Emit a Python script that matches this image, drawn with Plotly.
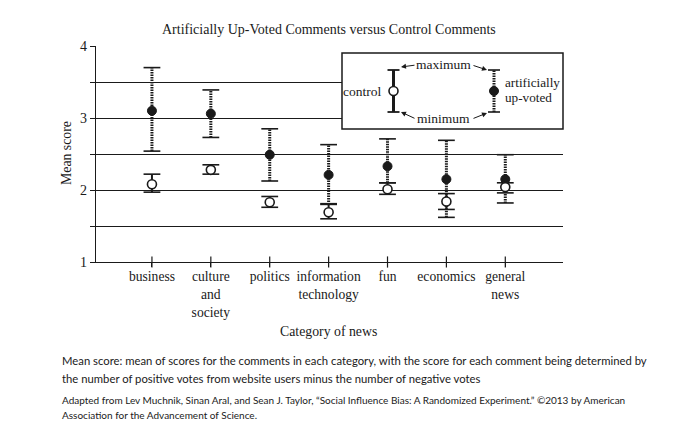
import plotly.graph_objects as go

categories = ["business", "culture and society", "politics", "information technology",
              "fun", "economics", "general news"]
tick_labels = ["business", "culture<br>and<br>society", "politics", "information<br>technology",
               "fun", "economics", "general<br>news"]
up_mean = [3.10, 3.06, 2.49, 2.21, 2.33, 2.15, 2.15]
up_max = [3.70, 3.39, 2.85, 2.63, 2.71, 2.69, 2.49]
up_min = [2.54, 2.73, 2.125, 1.80, 2.10, 1.62, 1.82]
ctrl_mean = [2.08, 2.28, 1.83, 1.69, 2.01, 1.84, 2.04]
ctrl_max = [2.22, 2.35, 1.91, 1.81, 2.10, 1.95, 2.10]
ctrl_min = [1.97, 2.22, 1.76, 1.60, 1.94, 1.73, 1.96]
y_ticks = [1, 1.5, 2, 2.5, 3, 3.5, 4]
y_tick_text = ["1", "", "2", "", "3", "", "4"]

W, H = 677, 440
L, R, T, B = 96, 114, 46, 178
PW, PH = W - L - R, H - T - B


def px(x):
    return (x - L) / PW


def py(y):
    return (H - B - y) / PH


SERIF = "Liberation Serif"
SANS = "Lato"
INK = "#1a1a1a"
DOT = "1.5px,1px"


def segs(lo, hi):
    xs, ys = [], []
    for c, a, b in zip(categories, lo, hi):
        xs += [c, c, None]
        ys += [a, b, None]
    return xs, ys


fig = go.Figure()

ux, uy = segs(up_min, up_max)
fig.add_trace(go.Scatter(x=ux, y=uy, mode="lines", line=dict(color=INK, width=3, dash=DOT),
                         hoverinfo="skip", showlegend=False))
cx, cy = segs(ctrl_min, ctrl_max)
fig.add_trace(go.Scatter(x=cx, y=cy, mode="lines", line=dict(color=INK, width=2),
                         hoverinfo="skip", showlegend=False))
fig.add_trace(go.Scatter(x=categories * 4, y=up_min + up_max + ctrl_min + ctrl_max, mode="markers",
                         marker=dict(symbol="line-ew", size=12, line=dict(color=INK, width=1.6)),
                         hoverinfo="skip", showlegend=False))
fig.add_trace(go.Scatter(x=categories, y=up_mean, mode="markers", name="artificially up-voted",
                         marker=dict(symbol="circle", size=9, color=INK, line=dict(color=INK, width=1)),
                         showlegend=False))
fig.add_trace(go.Scatter(x=categories, y=ctrl_mean, mode="markers", name="control",
                         marker=dict(symbol="circle", size=9, color="white", line=dict(color=INK, width=1.6)),
                         showlegend=False))
fig.add_trace(go.Scatter(x=categories, y=[1] * len(categories), mode="markers", cliponaxis=False,
                         marker=dict(symbol="line-ns", size=8, line=dict(color=INK, width=1.2)),
                         hoverinfo="skip", showlegend=False))

fig.update_layout(
    width=W, height=H, margin=dict(l=L, r=R, t=T, b=B),
    paper_bgcolor="white", plot_bgcolor="white",
    font=dict(family=SERIF, size=13, color=INK),
    xaxis=dict(type="category", categoryorder="array", categoryarray=categories,
               tickvals=categories, ticktext=tick_labels, range=[-0.95, 6.98],
               showgrid=False, showline=True, linecolor=INK, linewidth=1.2,
               ticks="outside", ticklen=4, tickcolor=INK, tickwidth=1.2, ticklabelstandoff=-2,
               tickfont=dict(family=SERIF, size=13.6, color=INK), zeroline=False),
    yaxis=dict(range=[1, 4], tickvals=y_ticks, ticktext=y_tick_text,
               showgrid=True, gridcolor=INK, gridwidth=1.2,
               showline=True, linecolor=INK, linewidth=1.2,
               ticks="outside", ticklen=5, tickcolor=INK, tickwidth=1.2,
               tickfont=dict(family=SERIF, size=14, color=INK), zeroline=False),
)

shapes = []
shapes.append(dict(type="rect", xref="paper", yref="paper", x0=px(342), x1=px(563), y0=py(129), y1=py(53),
                   fillcolor="white", line=dict(color=INK, width=1.5), layer="above"))
lx_c, lx_u = 393.5, 494
ytop, ybot, ymid = 70, 112, 91
shapes.append(dict(type="line", xref="paper", yref="paper", x0=px(lx_c), x1=px(lx_c), y0=py(ybot), y1=py(ytop),
                   line=dict(color=INK, width=3), layer="above"))
for yy in (ytop, ybot):
    shapes.append(dict(type="line", xref="paper", yref="paper", x0=px(lx_c - 6), x1=px(lx_c + 6), y0=py(yy), y1=py(yy),
                       line=dict(color=INK, width=1.8), layer="above"))
    shapes.append(dict(type="line", xref="paper", yref="paper", x0=px(lx_u - 6), x1=px(lx_u + 6), y0=py(yy), y1=py(yy),
                       line=dict(color=INK, width=1.6), layer="above"))
shapes.append(dict(type="line", xref="paper", yref="paper", x0=px(lx_u), x1=px(lx_u), y0=py(ybot), y1=py(ytop),
                   line=dict(color=INK, width=3, dash=DOT), layer="above"))
shapes.append(dict(type="circle", xref="paper", yref="paper", xsizemode="pixel", ysizemode="pixel",
                   xanchor=px(lx_c), yanchor=py(ymid), x0=-4.5, x1=4.5, y0=-4.5, y1=4.5,
                   fillcolor="white", line=dict(color=INK, width=1.6), layer="above"))
shapes.append(dict(type="circle", xref="paper", yref="paper", xsizemode="pixel", ysizemode="pixel",
                   xanchor=px(lx_u), yanchor=py(ymid), x0=-4.5, x1=4.5, y0=-4.5, y1=4.5,
                   fillcolor=INK, line=dict(color=INK, width=1), layer="above"))
fig.update_layout(shapes=shapes)

ann = []


def text(x, y, s, size=13, family=SERIF, xanchor="center", align="center", angle=0):
    ann.append(dict(x=px(x), y=py(y), xref="paper", yref="paper", text=s, showarrow=False,
                    xanchor=xanchor, yanchor="middle", align=align, textangle=angle,
                    font=dict(family=family, size=size, color=INK)))


def arrow(hx, hy, tx, ty):
    ann.append(dict(x=px(hx), y=py(hy), xref="paper", yref="paper", text="", showarrow=True,
                    ax=tx - hx, ay=ty - hy, axref="pixel", ayref="pixel",
                    arrowhead=2, arrowsize=1, arrowwidth=1, arrowcolor=INK, standoff=0, startstandoff=0))


text(329, 30, "Artificially Up-Voted Comments versus Control Comments", size=14)
text(328, 331, "Category of news", size=13.8)
text(66, 153, "Mean score", size=13.8, angle=-90)

text(383, 91, "control", size=13.5, xanchor="right")
text(443, 65, "maximum", size=13.5)
text(443, 119, "minimum", size=13.5)
text(503, 82, "artificially", size=13.2, xanchor="left", align="left")
text(503, 97, "up-voted", size=13.2, xanchor="left", align="left")
arrow(401, 67, 416, 65)
arrow(487, 70, 472, 65)
arrow(401, 112, 416, 119)
arrow(487, 113, 472, 119)

text(60, 360, "Mean score: mean of scores for the comments in each category, with the score for each comment being determined by",
     size=11.3, family=SANS, xanchor="left", align="left")
text(60, 378, "the number of positive votes from website users minus the number of negative votes",
     size=11.3, family=SANS, xanchor="left", align="left")
text(60, 400, "Adapted from Lev Muchnik, Sinan Aral, and Sean J. Taylor, \u201cSocial Influence Bias: A Randomized Experiment.\u201d \u00a92013 by American",
     size=10.0, family=SANS, xanchor="left", align="left")
text(60, 415, "Association for the Advancement of Science.",
     size=10.0, family=SANS, xanchor="left", align="left")

fig.update_layout(annotations=ann)
fig.write_html("out.html", config={"displayModeBar": False},
               post_script="document.body.style.margin='0';document.body.style.overflow='hidden';")
